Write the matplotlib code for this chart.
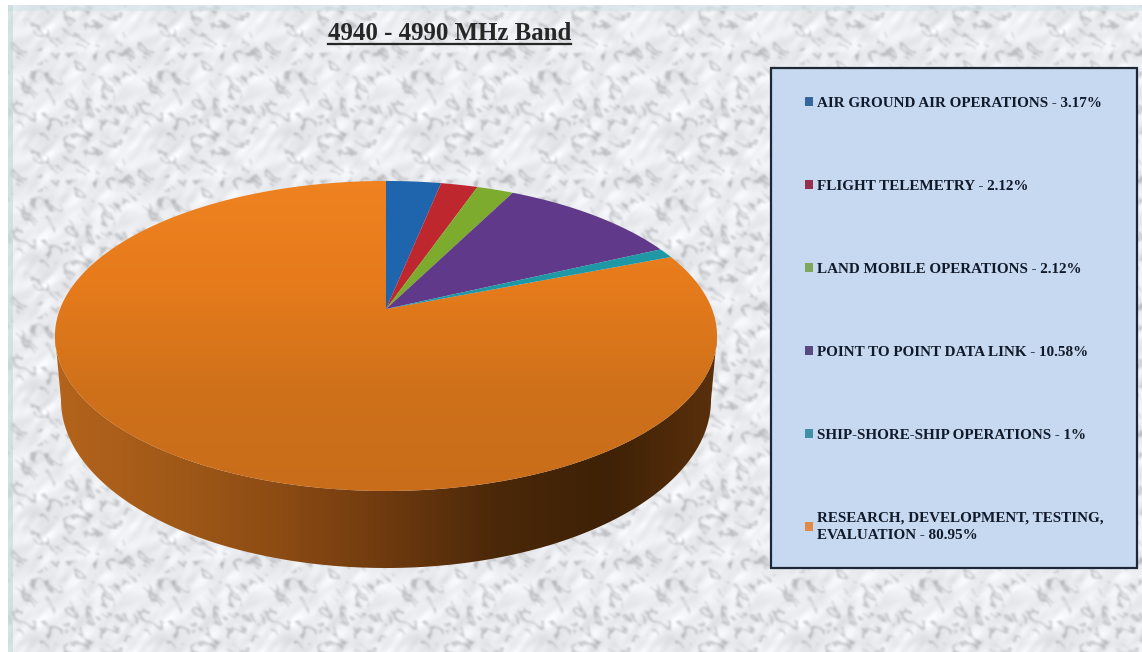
import matplotlib
matplotlib.use('Agg')
import matplotlib.pyplot as plt
import numpy as np
from matplotlib.colors import LinearSegmentedColormap
from matplotlib.patches import Patch, Polygon, Rectangle

title = '4940 - 4990 MHz Band'
categories = ['AIR GROUND AIR OPERATIONS', 'FLIGHT TELEMETRY', 'LAND MOBILE OPERATIONS',
              'POINT TO POINT DATA LINK', 'SHIP-SHORE-SHIP OPERATIONS',
              'RESEARCH, DEVELOPMENT, TESTING,\nEVALUATION']
shares = [3.17, 2.12, 2.12, 10.58, 1, 80.95]
share_labels = ['3.17%', '2.12%', '2.12%', '10.58%', '1%', '80.95%']
colors = ['#1f65ae', '#bf272e', '#7cab2d', '#60398b', '#1f98a6', '#dd7719']
legend_colors = ['#34659c', '#96304f', '#7fa65a', '#584a80', '#3f8fa8', '#e08a45']

W, H = 1142, 652
CX, APEX_Y = 386, 309    # pie centre as seen in perspective
A, B, K = 326, 150.3, 0.174


def rim(t):
    # circle -> image with a simple perspective, t is clockwise from 12 o'clock
    u, v = np.sin(t), np.cos(t)
    w = 1 + K * v
    return CX + A * u / w, APEX_Y - B * v / w


def clipped_gradient(ax, patch, stops, horizontal, extent, zorder):
    cmap = LinearSegmentedColormap.from_list('g', stops)
    g = np.linspace(0, 1, 256)
    g = g[None, :] if horizontal else g[:, None]
    im = ax.imshow(g, cmap=cmap, extent=extent, aspect='auto', zorder=zorder, vmin=0, vmax=1)
    im.set_clip_path(patch)


def marble(height, width):
    # decoration only: tiled backdrop, the seed keeps it the same on every run
    rng = np.random.default_rng(7)
    size = 127
    fy = np.fft.fftfreq(size)[:, None]
    fx = np.fft.fftfreq(size)[None, :]
    along = (fx + fy) / np.sqrt(2)
    across = (fx - fy) / np.sqrt(2)

    def layer(s1, s2):
        spec = np.exp(-(along * s1) ** 2 - (across * s2) ** 2)
        n = np.fft.ifft2(np.fft.fft2(rng.normal(size=(size, size))) * spec).real
        return n / n.std()

    def blur(a, s):
        spec = np.exp(-((fx * s) ** 2 + (fy * s) ** 2))
        return np.fft.ifft2(np.fft.fft2(a) * spec).real

    clouds = layer(12, 28)
    veins = np.exp(-(layer(20, 9) / 0.4) ** 2) * (layer(14, 14) > 0.2)
    tile = 0.94 + 0.02 * clouds - 0.2 * blur(veins, 5)
    reps = (height // size + 1, width // size + 1)
    val = np.clip(np.tile(tile, reps)[:height, :width], 0, 1)
    rgb = np.dstack([val * 0.99, val * 0.995, val * 1.01])
    return np.clip(rgb, 0, 1)


fig = plt.figure(figsize=(W / 100, H / 100), dpi=100, facecolor='white')
ax = fig.add_axes([0, 0, 1, 1])
ax.set_axis_off()

# backdrop
ax.imshow(marble(H - 5, W - 8), extent=(8, W, H, 5), aspect='auto', zorder=0, interpolation='bilinear')
ax.add_patch(Rectangle((8, 5), W - 8, 6, fc='#d5e6ea', ec='none', alpha=0.6, zorder=1))
ax.add_patch(Rectangle((8, 5), 5, H - 5, fc='#c5d8d4', ec='none', alpha=0.6, zorder=1))

# side wall of the pie
ts = np.linspace(np.pi / 2 + 0.17, 3 * np.pi / 2 - 0.17, 200)
rim_x, rim_y = rim(ts)
phi = np.linspace(np.pi / 2, 3 * np.pi / 2, 200)
low_x = CX + 325 * np.sin(phi)
low_y = 400 - 168 * np.cos(phi)
wall = Polygon(np.r_[np.c_[rim_x, rim_y], np.c_[low_x, low_y][::-1]], closed=True,
               fc='none', ec='none', zorder=2)
ax.add_patch(wall)
clipped_gradient(ax, wall, ['#b4641c', '#a25a18', '#8d4c14', '#6f3a0f', '#4b2809', '#3e2106', '#5a300c'],
                 True, (55, 717, 570, 330), 2)

# top face, one polygon per slice
edges = 2 * np.pi * np.r_[0, np.cumsum(shares)] / np.sum(shares)
for i, color in enumerate(colors):
    t = np.linspace(edges[i], edges[i + 1], 300)
    x, y = rim(t)
    pts = np.r_[[[CX, APEX_Y]], np.c_[x, y]]
    if i == len(colors) - 1:
        sl = Polygon(pts, closed=True, fc='none', ec='none', zorder=3)
        ax.add_patch(sl)
        clipped_gradient(ax, sl, ['#f08220', '#e67b1c', '#cf711a', '#c96d1a'], False, (50, 720, 495, 178), 3)
    else:
        ax.add_patch(Polygon(pts, closed=True, fc=color, ec='none', zorder=4))

ax.set_xlim(0, W)
ax.set_ylim(H, 0)

# title with its underline
txt = ax.text(449.5, 34, title, ha='center', va='center', family='Liberation Serif',
              fontweight='bold', fontsize=17.9, color='#262626', zorder=6)
box = txt.get_window_extent(fig.canvas.get_renderer()).transformed(ax.transData.inverted())
ax.plot([box.x0, box.x1], [44, 44], color='#262626', lw=1.6, zorder=6)

# legend panel
ax.add_patch(Rectangle((771, 68), 366, 500, fc='#c6d9f0', ec='#1d2735', lw=1.6, zorder=5))
handles = [Patch(fc=c, ec='none', label=f'{n} - {s}')
           for c, n, s in zip(legend_colors, categories, share_labels)]
leg = ax.legend(handles=handles, loc='upper left', bbox_to_anchor=(804.5 / W, 1 - 97 / H),
                bbox_transform=ax.transAxes, frameon=False, borderpad=0, borderaxespad=0,
                handlelength=0.55, handleheight=0.55, handletextpad=0.27, labelspacing=4.62,
                prop={'family': 'Liberation Serif', 'weight': 'bold', 'size': 10.9},
                labelcolor='#111a2a')
leg.get_texts()[-1].set_linespacing(1.45)
leg.set_zorder(6)

fig.savefig('out.png', dpi=100)
